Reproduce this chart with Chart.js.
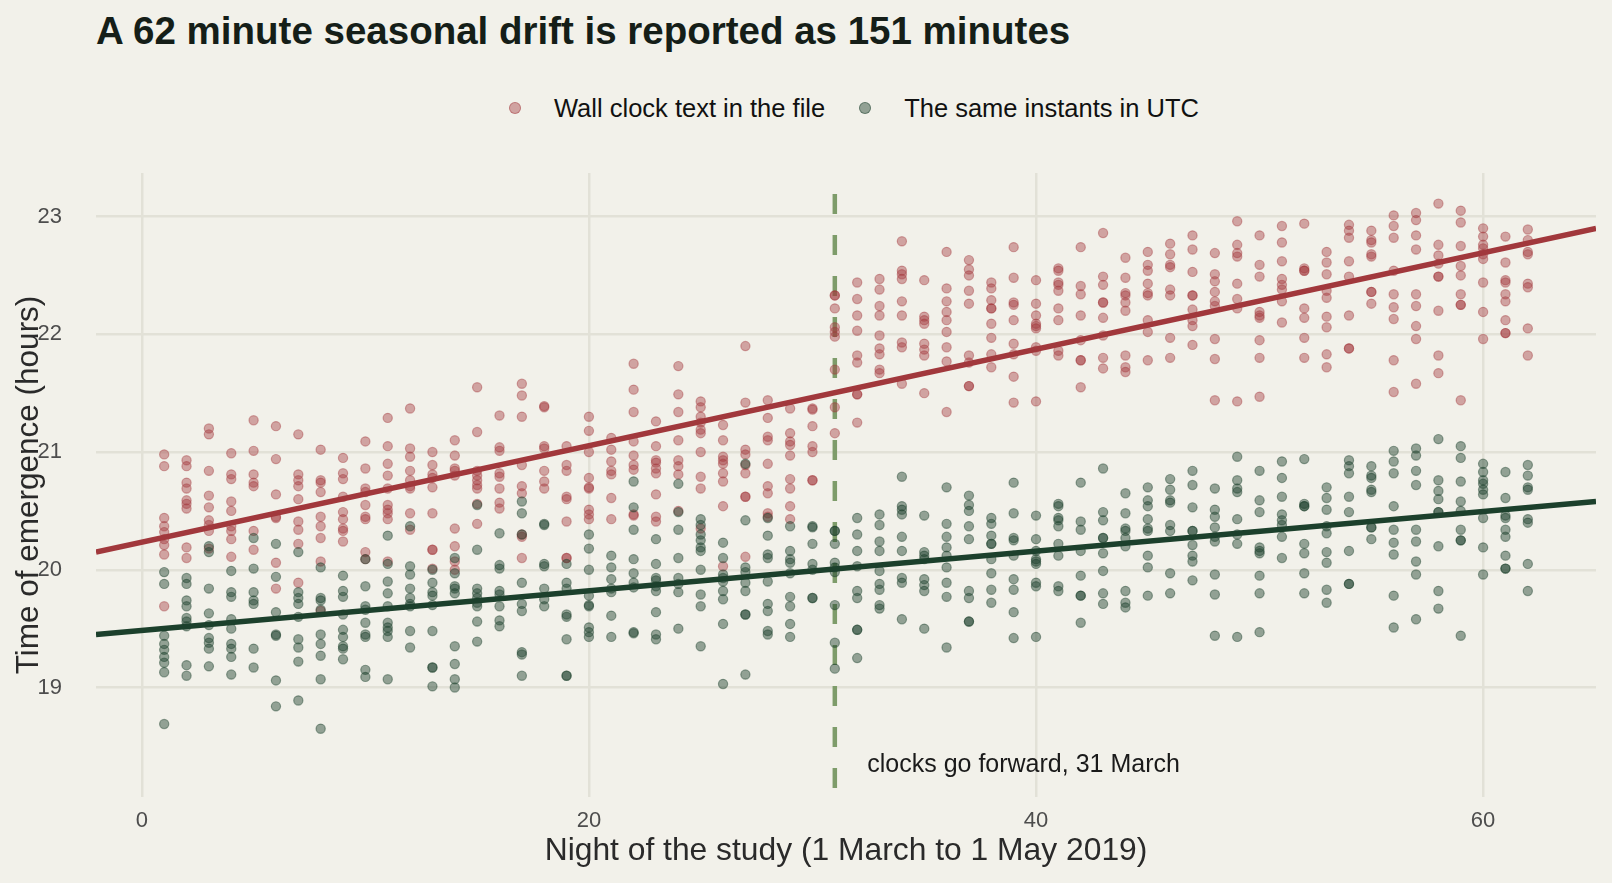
<!DOCTYPE html>
<html>
<head>
<meta charset="utf-8">
<script src="https://cdn.jsdelivr.net/npm/chart.js@4.4.1/dist/chart.umd.min.js"></script>
<style>
  html, body { margin: 0; padding: 0; background: #F2F1EA; }
  #wrap { position: relative; width: 1612px; height: 883px; font-family: "Liberation Sans", Arial, sans-serif; }
  #chart-box { position: absolute; left: 0; top: 0; width: 1612px; height: 883px; }
  #title {
    position: absolute; left: 96px; top: 12px; margin: 0;
    font-size: 38.5px; line-height: 38px; font-weight: bold; color: #151E18; white-space: nowrap;
  }
  #legend {
    position: absolute; left: 509px; top: 92px; height: 32px;
    display: flex; align-items: center; font-size: 25.5px; color: #111;
  }
  .lg-item { display: flex; align-items: center; margin-right: 34px; white-space: nowrap; }
  .lg-dot { width: 10px; height: 10px; border-radius: 50%; margin-right: 33px; border: 1px solid; }
</style>
</head>
<body>
<div id="wrap">
  <h1 id="title">A 62 minute seasonal drift is reported as 151 minutes</h1>
  <div id="legend"></div>
  <div id="chart-box"><canvas id="emergence-chart"></canvas></div>
</div>
<script>
// ── Data ──────────────────────────────────────────────────
// One row per night (1 March = night 1); values are hours of the day.

const nights = [
   1,  2,  3,  4,  5,  6,  7,  8,  9, 10, 11, 12, 13, 14, 15, 16, 17, 18, 19, 20,
  21, 22, 23, 24, 25, 26, 27, 28, 29, 30, 31, 32, 33, 34, 35, 36, 37, 38, 39, 40,
  41, 42, 43, 44, 45, 46, 47, 48, 49, 50, 51, 52, 53, 54, 55, 56, 57, 58, 59, 60,
  61, 62,
];

// wall clock text as written in the file
const wallClock = [
  [20.98, 20.88, 20.44, 20.37, 20.32, 20.26, 20.21, 20.13, 19.69],
  [20.93, 20.88, 20.74, 20.69, 20.59, 20.56, 20.52, 20.19, 20.10],
  [21.20, 21.15, 20.84, 20.63, 20.53, 20.42, 20.38, 20.33, 20.18],
  [20.99, 20.81, 20.77, 20.58, 20.50, 20.37, 20.33, 20.26, 20.11],
  [21.27, 21.01, 20.81, 20.74, 20.71, 20.33, 20.17],
  [21.22, 20.94, 20.64, 20.45, 20.44, 20.06, 19.84],
  [21.15, 20.81, 20.76, 20.71, 20.60, 20.41, 20.34, 20.22, 19.89],
  [21.02, 20.76, 20.74, 20.66, 20.45, 20.37, 20.27, 20.07, 19.65],
  [20.95, 20.82, 20.77, 20.62, 20.49, 20.43, 20.35, 20.33, 20.24],
  [21.09, 20.86, 20.69, 20.66, 20.55, 20.45, 20.43, 20.15, 20.09],
  [21.29, 21.05, 20.90, 20.80, 20.69, 20.55, 20.51, 20.48, 20.43, 20.07],
  [21.37, 21.03, 20.96, 20.84, 20.76, 20.71, 20.69, 20.48, 20.34],
  [21.00, 20.89, 20.81, 20.78, 20.70, 20.48, 20.17, 20.17, 20.01],
  [21.10, 20.97, 20.86, 20.84, 20.80, 20.35, 20.20, 20.07, 20.00],
  [21.55, 21.17, 20.84, 20.80, 20.76, 20.72, 20.69, 20.56, 20.39],
  [21.31, 21.04, 21.01, 20.82, 20.79, 20.69, 20.57, 20.52],
  [21.58, 21.48, 21.30, 20.89, 20.71, 20.65, 20.30, 20.28, 20.10],
  [21.39, 21.38, 21.05, 21.03, 20.84, 20.75, 20.69],
  [21.05, 20.89, 20.84, 20.62, 20.60, 20.41, 20.10, 20.10],
  [21.30, 21.18, 21.00, 20.78, 20.70, 20.69, 20.51, 20.47, 20.43],
  [21.12, 21.02, 20.92, 20.84, 20.81, 20.61, 20.43],
  [21.75, 21.53, 21.34, 21.09, 20.97, 20.89, 20.85, 20.47, 20.46],
  [21.26, 21.05, 20.93, 20.91, 20.86, 20.82, 20.64, 20.45, 20.41],
  [21.73, 21.49, 21.34, 21.10, 20.93, 20.88, 20.81, 20.50],
  [21.43, 21.38, 21.30, 21.25, 21.19, 21.16, 21.00, 20.79, 20.69, 20.35],
  [21.23, 21.10, 20.96, 20.93, 20.90, 20.82, 20.75, 20.54, 20.03],
  [21.90, 21.42, 21.02, 20.98, 20.89, 20.82, 20.62, 20.62, 20.11],
  [21.44, 21.29, 21.13, 21.10, 20.90, 20.71, 20.65, 20.48, 20.45],
  [21.37, 21.16, 21.09, 21.06, 20.97, 20.77, 20.69, 20.54, 20.43],
  [21.37, 21.36, 21.22, 21.05, 21.00, 20.76, 20.76],
  [22.33, 22.33, 22.22, 22.06, 22.02, 21.98, 21.70, 21.38, 21.16],
  [22.44, 22.30, 22.16, 22.03, 21.82, 21.76, 21.49, 21.49, 21.25],
  [22.47, 22.38, 22.24, 22.16, 21.99, 21.88, 21.83, 21.70, 21.67],
  [22.79, 22.54, 22.51, 22.47, 22.28, 22.16, 21.93, 21.89, 21.58],
  [22.46, 22.15, 22.12, 22.09, 21.92, 21.87, 21.82, 21.50],
  [22.70, 22.39, 22.28, 22.19, 22.12, 22.02, 21.89, 21.77, 21.34],
  [22.63, 22.55, 22.50, 22.37, 22.26, 21.82, 21.76, 21.56, 21.56],
  [22.44, 22.39, 22.29, 22.22, 22.22, 22.09, 21.97, 21.83, 21.72],
  [22.74, 22.48, 22.27, 22.25, 22.12, 21.92, 21.83, 21.64, 21.42],
  [22.46, 22.26, 22.16, 22.09, 22.07, 22.05, 21.89, 21.86, 21.43],
  [22.56, 22.54, 22.44, 22.42, 22.37, 22.22, 22.12, 21.86, 21.82],
  [22.74, 22.41, 22.34, 22.16, 21.95, 21.78, 21.78, 21.55],
  [22.86, 22.49, 22.42, 22.27, 22.27, 22.14, 21.99, 21.80, 21.71],
  [22.65, 22.48, 22.35, 22.33, 22.27, 22.20, 21.82, 21.72, 21.68],
  [22.70, 22.59, 22.54, 22.43, 22.35, 22.33, 22.12, 22.02, 21.78],
  [22.77, 22.68, 22.59, 22.57, 22.38, 22.33, 21.97, 21.80],
  [22.84, 22.72, 22.53, 22.33, 22.33, 22.21, 22.12, 22.07, 21.91],
  [22.69, 22.51, 22.45, 22.36, 22.28, 22.24, 21.96, 21.79, 21.44],
  [22.96, 22.76, 22.69, 22.66, 22.43, 22.30, 22.22, 21.43],
  [22.84, 22.59, 22.49, 22.19, 22.16, 22.14, 21.95, 21.80, 21.47],
  [22.92, 22.78, 22.62, 22.47, 22.42, 22.38, 22.28, 22.10],
  [22.94, 22.56, 22.54, 22.54, 22.22, 22.14, 21.97, 21.80],
  [22.70, 22.61, 22.51, 22.37, 22.31, 22.15, 22.06, 21.83, 21.72],
  [22.93, 22.88, 22.82, 22.62, 22.49, 22.16, 21.88, 21.88],
  [22.88, 22.80, 22.78, 22.68, 22.66, 22.36, 22.36, 22.26],
  [23.01, 22.92, 22.82, 22.54, 22.34, 22.23, 22.13, 21.78, 21.51],
  [23.03, 22.97, 22.84, 22.72, 22.34, 22.24, 22.07, 21.96, 21.58],
  [23.11, 22.76, 22.67, 22.60, 22.49, 22.49, 22.20, 21.82, 21.67],
  [23.05, 22.95, 22.75, 22.58, 22.50, 22.34, 22.25, 22.25, 21.44],
  [22.90, 22.83, 22.76, 22.73, 22.68, 22.64, 22.44, 22.19, 21.96],
  [22.83, 22.61, 22.46, 22.44, 22.34, 22.28, 22.12, 22.01, 22.01],
  [22.89, 22.80, 22.70, 22.68, 22.43, 22.40, 22.05, 21.82],
];

// the same instants in UTC
const utcTime = [
  [19.98, 19.88, 19.44, 19.37, 19.32, 19.26, 19.21, 19.13, 18.69],
  [19.93, 19.88, 19.74, 19.69, 19.59, 19.56, 19.52, 19.19, 19.10],
  [20.20, 20.15, 19.84, 19.63, 19.53, 19.42, 19.38, 19.33, 19.18],
  [19.99, 19.81, 19.77, 19.58, 19.50, 19.37, 19.33, 19.26, 19.11],
  [20.27, 20.01, 19.81, 19.74, 19.71, 19.33, 19.17],
  [20.22, 19.94, 19.64, 19.45, 19.44, 19.06, 18.84],
  [20.15, 19.81, 19.76, 19.71, 19.60, 19.41, 19.34, 19.22, 18.89],
  [20.02, 19.76, 19.74, 19.66, 19.45, 19.37, 19.27, 19.07, 18.65],
  [19.95, 19.82, 19.77, 19.62, 19.49, 19.43, 19.35, 19.33, 19.24],
  [20.09, 19.86, 19.69, 19.66, 19.55, 19.45, 19.43, 19.15, 19.09],
  [20.29, 20.05, 19.90, 19.80, 19.69, 19.55, 19.51, 19.48, 19.43, 19.07],
  [20.37, 20.03, 19.96, 19.84, 19.76, 19.71, 19.69, 19.48, 19.34],
  [20.00, 19.89, 19.81, 19.78, 19.70, 19.48, 19.17, 19.17, 19.01],
  [20.10, 19.97, 19.86, 19.84, 19.80, 19.35, 19.20, 19.07, 19.00],
  [20.55, 20.17, 19.84, 19.80, 19.76, 19.72, 19.69, 19.56, 19.39],
  [20.31, 20.04, 20.01, 19.82, 19.79, 19.69, 19.57, 19.52],
  [20.58, 20.48, 20.30, 19.89, 19.71, 19.65, 19.30, 19.28, 19.10],
  [20.39, 20.38, 20.05, 20.03, 19.84, 19.75, 19.69],
  [20.05, 19.89, 19.84, 19.62, 19.60, 19.41, 19.10, 19.10],
  [20.30, 20.18, 20.00, 19.78, 19.70, 19.69, 19.51, 19.47, 19.43],
  [20.12, 20.02, 19.92, 19.84, 19.81, 19.61, 19.43],
  [20.75, 20.53, 20.34, 20.09, 19.97, 19.89, 19.85, 19.47, 19.46],
  [20.26, 20.05, 19.93, 19.91, 19.86, 19.82, 19.64, 19.45, 19.41],
  [20.73, 20.49, 20.34, 20.10, 19.93, 19.88, 19.81, 19.50],
  [20.43, 20.38, 20.30, 20.25, 20.19, 20.16, 20.00, 19.79, 19.69, 19.35],
  [20.23, 20.10, 19.96, 19.93, 19.90, 19.82, 19.75, 19.54, 19.03],
  [20.90, 20.42, 20.02, 19.98, 19.89, 19.82, 19.62, 19.62, 19.11],
  [20.44, 20.29, 20.13, 20.10, 19.90, 19.71, 19.65, 19.48, 19.45],
  [20.37, 20.16, 20.09, 20.06, 19.97, 19.77, 19.69, 19.54, 19.43],
  [20.37, 20.36, 20.22, 20.05, 20.00, 19.76, 19.76],
  [20.33, 20.33, 20.22, 20.06, 20.02, 19.98, 19.70, 19.38, 19.16],
  [20.44, 20.30, 20.16, 20.03, 19.82, 19.76, 19.49, 19.49, 19.25],
  [20.47, 20.38, 20.24, 20.16, 19.99, 19.88, 19.83, 19.70, 19.67],
  [20.79, 20.54, 20.51, 20.47, 20.28, 20.16, 19.93, 19.89, 19.58],
  [20.46, 20.15, 20.12, 20.09, 19.92, 19.87, 19.82, 19.50],
  [20.70, 20.39, 20.28, 20.19, 20.12, 20.02, 19.89, 19.77, 19.34],
  [20.63, 20.55, 20.50, 20.37, 20.26, 19.82, 19.76, 19.56, 19.56],
  [20.44, 20.39, 20.29, 20.22, 20.22, 20.09, 19.97, 19.83, 19.72],
  [20.74, 20.48, 20.27, 20.25, 20.12, 19.92, 19.83, 19.64, 19.42],
  [20.46, 20.26, 20.16, 20.09, 20.07, 20.05, 19.89, 19.86, 19.43],
  [20.56, 20.54, 20.44, 20.42, 20.37, 20.22, 20.12, 19.86, 19.82],
  [20.74, 20.41, 20.34, 20.16, 19.95, 19.78, 19.78, 19.55],
  [20.86, 20.49, 20.42, 20.27, 20.27, 20.14, 19.99, 19.80, 19.71],
  [20.65, 20.48, 20.35, 20.33, 20.27, 20.20, 19.82, 19.72, 19.68],
  [20.70, 20.59, 20.54, 20.43, 20.35, 20.33, 20.12, 20.02, 19.78],
  [20.77, 20.68, 20.59, 20.57, 20.38, 20.33, 19.97, 19.80],
  [20.84, 20.72, 20.53, 20.33, 20.33, 20.21, 20.12, 20.07, 19.91],
  [20.69, 20.51, 20.45, 20.36, 20.28, 20.24, 19.96, 19.79, 19.44],
  [20.96, 20.76, 20.69, 20.66, 20.43, 20.30, 20.22, 19.43],
  [20.84, 20.59, 20.49, 20.19, 20.16, 20.14, 19.95, 19.80, 19.47],
  [20.92, 20.78, 20.62, 20.47, 20.42, 20.38, 20.28, 20.10],
  [20.94, 20.56, 20.54, 20.54, 20.22, 20.14, 19.97, 19.80],
  [20.70, 20.61, 20.51, 20.37, 20.31, 20.15, 20.06, 19.83, 19.72],
  [20.93, 20.88, 20.82, 20.62, 20.49, 20.16, 19.88, 19.88],
  [20.88, 20.80, 20.78, 20.68, 20.66, 20.36, 20.36, 20.26],
  [21.01, 20.92, 20.82, 20.54, 20.34, 20.23, 20.13, 19.78, 19.51],
  [21.03, 20.97, 20.84, 20.72, 20.34, 20.24, 20.07, 19.96, 19.58],
  [21.11, 20.76, 20.67, 20.60, 20.49, 20.49, 20.20, 19.82, 19.67],
  [21.05, 20.95, 20.75, 20.58, 20.50, 20.34, 20.25, 20.25, 19.44],
  [20.90, 20.83, 20.76, 20.73, 20.68, 20.64, 20.44, 20.19, 19.96],
  [20.83, 20.61, 20.46, 20.44, 20.34, 20.28, 20.12, 20.01, 20.01],
  [20.89, 20.80, 20.70, 20.68, 20.43, 20.40, 20.05, 19.82],
];

// fitted trend lines, read at the panel edges
const fitNights = [-2.05, 65.05];
const fitWall   = [20.15, 22.90];
const fitUtc    = [19.45, 20.58];

const clockChangeNight = 31;
const xTicks = [0, 20, 40, 60];
const yTicks = [19, 20, 21, 22, 23];
const xRange = [-2.05, 65.05];
const yRange = [18.07, 23.37];

const seriesLabels = ['Wall clock text in the file', 'The same instants in UTC'];
const noteText = 'clocks go forward, 31 March';
const notePos  = [32.45, 18.34];   // night, hour

// ── Styling ───────────────────────────────────────────────

const RED       = '#A1383C';
const RED_PT    = 'rgba(161, 56, 60, 0.42)';
const GREEN     = '#1C402C';
const GREEN_PT  = 'rgba(28, 64, 44, 0.45)';
const VLINE     = '#7E9C6A';
const GRID      = '#E2E1D7';
const TICK_TXT  = '#4D4D4D';
const AXIS_TXT  = '#2A2A2A';
const FONT      = '"Liberation Sans", Arial, sans-serif';

const toPoints = rows => rows.flatMap((vals, i) => vals.map(v => ({ x: nights[i], y: v })));
const toLine   = ys => fitNights.map((x, i) => ({ x, y: ys[i] }));

// annotation text placed through the chart's own scales
const noteLabel = {
  id: 'noteLabel',
  afterDatasetsDraw(chart) {
    const { ctx, scales: { x, y } } = chart;
    ctx.save();
    ctx.font = `25px ${FONT}`;
    ctx.fillStyle = '#1A1A1A';
    ctx.textAlign = 'left';
    ctx.textBaseline = 'middle';
    ctx.fillText(noteText, x.getPixelForValue(notePos[0]), y.getPixelForValue(notePos[1]));
    ctx.restore();
  },
};

const chart = new Chart(document.getElementById('emergence-chart'), {
  type: 'scatter',
  data: {
    datasets: [
      {
        // drawn top-down, starting in a gap like the reference
        label: 'clock change', type: 'line',
        data: [{ x: clockChangeNight, y: yRange[1] }, { x: clockChangeNight, y: yRange[0] }],
        borderColor: VLINE, borderWidth: 4.5, borderDash: [20, 21], borderDashOffset: 20,
        pointRadius: 0, order: 10,
      },
      {
        label: seriesLabels[0], data: toPoints(wallClock),
        backgroundColor: RED_PT, borderColor: RED_PT, borderWidth: 1.2,
        pointRadius: 4.6, order: 6,
      },
      {
        label: seriesLabels[1], data: toPoints(utcTime),
        backgroundColor: GREEN_PT, borderColor: GREEN_PT, borderWidth: 1.2,
        pointRadius: 4.6, order: 5,
      },
      {
        label: 'wall trend', type: 'line', data: toLine(fitWall),
        borderColor: RED, borderWidth: 5.5, pointRadius: 0, order: 2,
      },
      {
        label: 'utc trend', type: 'line', data: toLine(fitUtc),
        borderColor: GREEN, borderWidth: 5.5, pointRadius: 0, order: 1,
      },
    ],
  },
  options: {
    responsive: true, maintainAspectRatio: false, animation: false,
    layout: { padding: { top: 173, right: 16, left: 0, bottom: 0 } },
    plugins: { legend: { display: false }, tooltip: { enabled: false } },
    scales: {
      x: {
        type: 'linear', min: xRange[0], max: xRange[1],
        afterBuildTicks: s => { s.ticks = xTicks.map(v => ({ value: v })); },
        afterFit: s => { s.height = 86; },
        grid: { color: GRID, lineWidth: 2.5, drawTicks: false },
        border: { display: false },
        ticks: { color: TICK_TXT, padding: 11, font: { family: FONT, size: 22 } },
        title: {
          display: true, text: 'Night of the study (1 March to 1 May 2019)',
          color: AXIS_TXT, font: { family: FONT, size: 31.8 }, padding: { top: 0, bottom: 13 },
        },
      },
      y: {
        type: 'linear', min: yRange[0], max: yRange[1],
        afterBuildTicks: s => { s.ticks = yTicks.map(v => ({ value: v })); },
        afterFit: s => { s.width = 96; },
        grid: { color: GRID, lineWidth: 2.5, drawTicks: false },
        border: { display: false },
        ticks: { color: TICK_TXT, padding: 34, font: { family: FONT, size: 22 } },
        title: {
          display: true, text: 'Time of emergence (hours)',
          color: AXIS_TXT, font: { family: FONT, size: 31.5 }, padding: { top: 10, bottom: 0 },
        },
      },
    },
  },
  plugins: [noteLabel],
});

// ── HTML legend built from the two point series ───────────

const legendEl = document.getElementById('legend');
chart.data.datasets
  .filter(ds => seriesLabels.includes(ds.label))
  .forEach(ds => {
    const item = document.createElement('div');
    item.className = 'lg-item';
    item.innerHTML = `<span class="lg-dot" style="background:${ds.backgroundColor};border-color:${ds.borderColor}"></span><span>${ds.label}</span>`;
    legendEl.appendChild(item);
  });
</script>
</body>
</html>
